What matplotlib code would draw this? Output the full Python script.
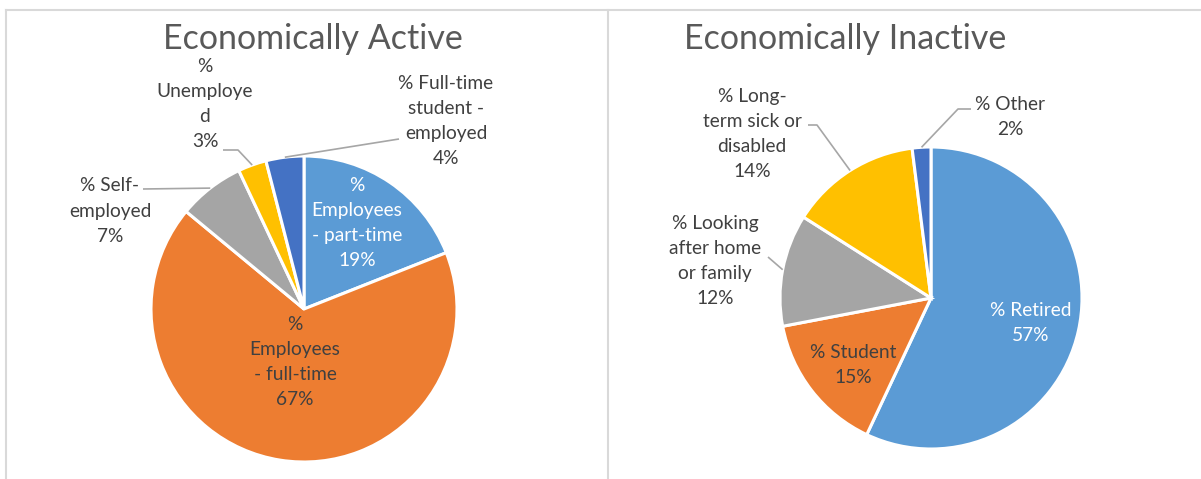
import numpy as np
import matplotlib.pyplot as plt

plt.rcParams['font.family'] = ['Lato', 'DejaVu Sans']

# data
active_labels = ["%\nEmployees\n- part-time", "%\nEmployees\n- full-time", "% Self-\nemployed",
                 "%\nUnemploye\nd", "% Full-time\nstudent -\nemployed"]
active_values = [19, 67, 7, 3, 4]

inactive_labels = ["% Retired", "% Student", "% Looking\nafter home\nor family",
                   "% Long-\nterm sick or\ndisabled", "% Other"]
inactive_values = [57, 15, 12, 14, 2]

colors = ["#5B9BD5", "#ED7D31", "#A5A5A5", "#FFC000", "#4472C4"]

W, H = 1201, 479
fig = plt.figure(figsize=(W / 100, H / 100), dpi=100)
ax = fig.add_axes([0, 0, 1, 1])


def pix(x, y):
    # image pixel (y down) -> data (y up)
    return x, H - y


def edge_point(values, i, cx, cy, r):
    # point on the rim at the middle of wedge i (clockwise from 12 o'clock)
    cum = sum(values[:i]) + values[i] / 2
    a = np.radians(360 * cum / sum(values))
    x, y = pix(cx, cy)
    return x + r * np.sin(a), y + r * np.cos(a)


def draw_pie(values, labels, cx, cy, r, title, tx, label_pos, label_col, leaders):
    ax.pie(values, colors=colors, startangle=90, counterclock=False,
           center=pix(cx, cy), radius=r,
           wedgeprops=dict(edgecolor="white", linewidth=2.2))
    ax.text(*pix(tx, 39), title, ha="center", va="center", fontsize=24.5, color="#595959")
    for i, (lab, v) in enumerate(zip(labels, values)):
        px, py = label_pos[i]
        ax.text(*pix(px, py), f"{lab}\n{v}%", ha="center", va="center",
                fontsize=13.8, color=label_col[i], linespacing=1.58)
        if leaders[i] is not None:
            pts = [pix(x, y) for x, y in leaders[i]]
            pts.append(edge_point(values, i, cx, cy, r))
            xs, ys = zip(*pts)
            ax.plot(xs, ys, color="#A6A6A6", lw=1.2, solid_capstyle="butt")


draw_pie(active_values, active_labels, 304, 309, 153, "Economically Active", 313,
         label_pos=[(357, 223), (295, 362), (110, 211), (205, 104), (446, 121)],
         label_col=["white", "#404040", "#404040", "#404040", "#404040"],
         leaders=[None, None, [(143, 189)], [(223, 150), (238, 150)], [(399, 139)]])

draw_pie(inactive_values, inactive_labels, 931, 298, 151, "Economically Inactive", 845,
         label_pos=[(1031, 323), (853, 365), (715, 261), (752, 134), (1010, 117)],
         label_col=["white", "#404040", "#404040", "#404040", "#404040"],
         leaders=[None, None, [(768, 257)], [(808, 125), (817, 125)], [(971, 109), (958, 109)]])

# light chart frames
ax.plot(*zip(pix(6, 10), pix(W, 10)), color="#D9D9D9", lw=1.5)
ax.plot(*zip(pix(6, 10), pix(6, H)), color="#D9D9D9", lw=1.5)
ax.plot(*zip(pix(608, 10), pix(608, H)), color="#D9D9D9", lw=1.5)

ax.set_xlim(0, W)
ax.set_ylim(0, H)
ax.set_aspect("equal", adjustable="box")
ax.axis("off")

fig.savefig("out.png", dpi=100)
